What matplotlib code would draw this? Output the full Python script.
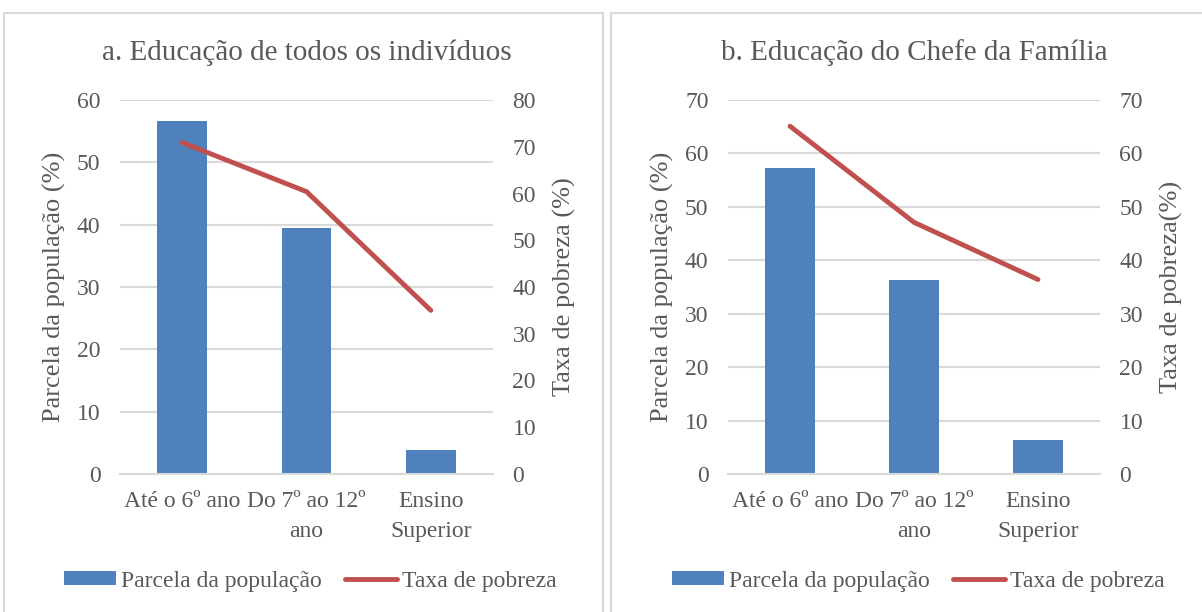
import matplotlib
matplotlib.use("Agg")
import matplotlib.pyplot as plt
from matplotlib.patches import Rectangle

# Data
categorias = ["Até o 6º ano", "Do 7º ao 12º\nano", "Ensino\nSuperior"]
parcela_a = [56.6, 39.4, 3.8]     # Parcela da população (%) - todos os indivíduos
pobreza_a = [70.9, 60.4, 35.0]    # Taxa de pobreza (%) - todos os indivíduos
parcela_b = [57.3, 36.3, 6.4]     # Parcela da população (%) - chefe da família
pobreza_b = [65.1, 47.1, 36.4]    # Taxa de pobreza (%) - chefe da família

AZUL = "#4F81BD"
VERMELHO = "#C0504D"
CINZA_TXT = "#595959"
CINZA_GRADE = "#D9D9D9"

plt.rcParams["font.family"] = ["Liberation Serif", "DejaVu Serif"]

W, H = 1202, 612
fig = plt.figure(figsize=(W / 100, H / 100), dpi=100)

# panel borders
for x0, x1 in [(4, 603), (611, 1205)]:
    fig.patches.append(Rectangle((x0 / W, -0.05), (x1 - x0) / W, (H - 13) / H + 0.05,
                                 transform=fig.transFigure, fill=False,
                                 edgecolor=CINZA_GRADE, linewidth=1.5))


def painel(left, right, titulo, parcela, pobreza, lim_esq, lim_dir, rotulo_dir, leg_x):
    ax = fig.add_axes([left / W, (H - 474) / H, (right - left) / W, 374 / H])
    x = range(len(categorias))
    ax.bar(x, parcela, width=0.4, color=AZUL, zorder=2, label="Parcela da população")
    ax.set_xlim(-0.5, 2.5)
    ax.set_ylim(0, lim_esq)
    ax.set_yticks(range(0, lim_esq + 1, 10))
    ax.yaxis.grid(True, color=CINZA_GRADE, linewidth=1.5, zorder=0)
    ax.set_axisbelow(True)
    for s in ["top", "right", "left"]:
        ax.spines[s].set_visible(False)
    ax.spines["bottom"].set_color(CINZA_GRADE)
    ax.spines["bottom"].set_linewidth(1.5)
    ax.set_xticks(list(x))
    ax.set_xticklabels(categorias, linespacing=1.6)
    ax.tick_params(axis="both", length=0, labelsize=17, colors=CINZA_TXT)
    ax.tick_params(axis="y", pad=14)
    ax.tick_params(axis="x", pad=12)
    ax.set_ylabel("Parcela da população (%)", fontsize=19, color=CINZA_TXT, labelpad=8)
    ax.set_title(titulo, fontsize=21, color=CINZA_TXT, pad=29)

    ax2 = ax.twinx()
    ax2.plot(x, pobreza, color=VERMELHO, linewidth=3.5, solid_capstyle="round",
             label="Taxa de pobreza")
    ax2.set_ylim(0, lim_dir)
    ax2.set_yticks(range(0, lim_dir + 1, 10))
    for s in ax2.spines.values():
        s.set_visible(False)
    ax2.tick_params(axis="y", length=0, labelsize=17, colors=CINZA_TXT, pad=14)
    ax2.set_ylabel(rotulo_dir, fontsize=19, color=CINZA_TXT, labelpad=12)

    h1, l1 = ax.get_legend_handles_labels()
    h2, l2 = ax2.get_legend_handles_labels()
    leg = fig.legend(h1 + h2, l1 + l2, loc="center", bbox_to_anchor=(leg_x / W, (H - 581) / H),
                     ncol=2, frameon=False, fontsize=17, handlelength=2.2, handleheight=0.5,
                     handletextpad=0.2, columnspacing=1.0)
    for t in leg.get_texts():
        t.set_color(CINZA_TXT)


painel(120, 493, "a. Educação de todos os indivíduos", parcela_a, pobreza_a, 60, 80,
       "Taxa de pobreza (%)", 310)
painel(728, 1100, "b. Educação do Chefe da Família", parcela_b, pobreza_b, 70, 70,
       "Taxa de pobreza(%)", 918)

fig.savefig("out.png", dpi=100)
